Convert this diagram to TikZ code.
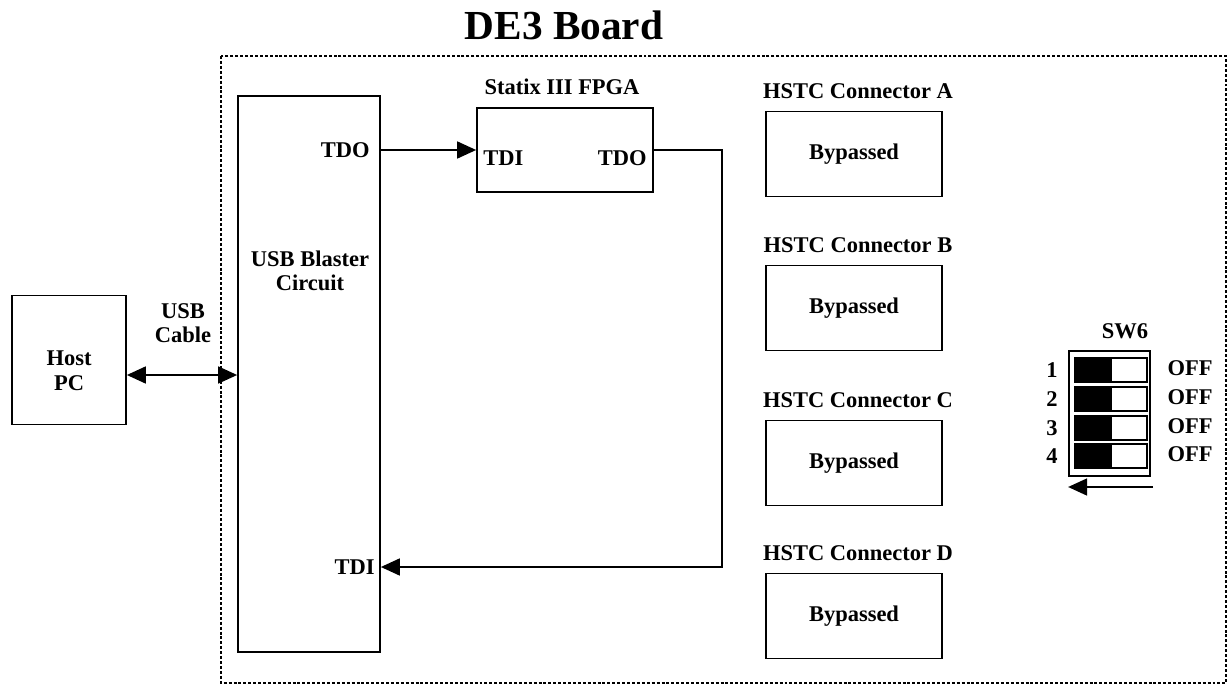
\documentclass[tikz,border=0pt]{standalone}
\usepackage{fontspec}
\setmainfont{Liberation Serif}
\usetikzlibrary{arrows.meta}

\begin{document}
\begin{tikzpicture}[x=0.02cm,y=-0.02cm,
        font=\fontsize{12.8}{14}\selectfont\bfseries,
        box/.style={draw,line width=1pt,inner sep=0pt},
        lbl/.style={inner sep=0pt,align=center},
        wire/.style={line width=1pt},
        board/.style={line width=1.2pt,dash pattern=on 1.7pt off 1.1pt},
        tip/.style={-{Triangle[length=3.8mm,width=3.4mm]}},
        tips/.style={{Triangle[length=3.8mm,width=3.4mm]}-{Triangle[length=3.8mm,width=3.4mm]}}]
        \useasboundingbox (0,0) rectangle (1228,686);
        \node[lbl,font=\fontsize{23.5}{26}\selectfont\bfseries] (title) at (564,25) {DE3 Board};
        \draw[board] (221,56) rectangle (1226,683);
        \node[box,minimum width=2.28cm,minimum height=2.58cm] (host) at (69,360) {};
        \node[lbl] (hosttxt) at (69,371) {Host\\PC};
        \node[lbl] (cable) at (183,323) {USB\\Cable};
        \node[box,minimum width=2.84cm,minimum height=11.12cm] (usb) at (309,374) {};
        \node[lbl] (usbtxt) at (310,271) {USB Blaster\\Circuit};
        \node[lbl,anchor=east] (usbtdo) at (370,150) {TDO};
        \node[lbl,anchor=east] (usbtdi) at (375,567) {TDI};
        \node[box,minimum width=3.52cm,minimum height=1.68cm] (fpga) at (565,150) {};
        \node[lbl] (fpgatxt) at (562,87) {Statix III FPGA};
        \node[lbl,anchor=west] (fpgatdi) at (483,158) {TDI};
        \node[lbl,anchor=east] (fpgatdo) at (647,158) {TDO};
        \coordinate (cab) at (0,375);
        \coordinate (bend) at (722,567);
        \draw[wire,tips] (host.east |- cab) -- (usb.west |- cab);
        \draw[wire,tip] (usbtdo.east -| usb.east) -- (usbtdo.east -| fpga.west);
        \draw[wire,tip] (fpga.east |- usbtdo) -| (bend) -- (usbtdi.east -| usb.east);
        \foreach \n/\y in {A/154,B/308,C/463,D/616} {
            \node[box,minimum width=3.52cm,minimum height=1.7cm] (hstc\n) at (854,\y) {Bypassed};
            \node[lbl] (hstc\n txt) at (858,\y-63) {HSTC Connector \n};
        }
        \node[lbl] (sw) at (1125,331) {SW6};
        \node[box,minimum width=1.62cm,minimum height=2.5cm] (swbox) at (1109.5,413.5) {};
        \foreach \i/\y in {1/370,2/399,3/428,4/456} {
            \fill (1075,\y-12) rectangle (1112,\y+12);
            \draw[wire] (1075,\y-12) rectangle (1147,\y+12);
            \node[lbl] (num\i) at (1052,\y) {\i};
            \node[lbl] (off\i) at (1190,\y-2) {OFF};
        }
        \coordinate (dir) at (1153,487);
        \draw[wire,tip] (dir) -- (swbox.west |- dir);
\end{tikzpicture}
\end{document}
